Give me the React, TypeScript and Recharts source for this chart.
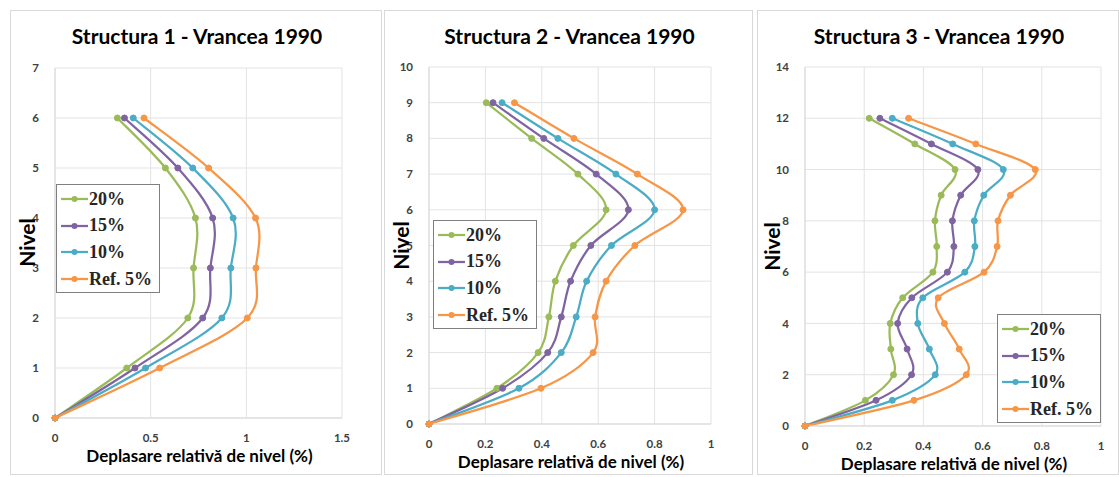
import React from 'react';
import { LineChart, Line, XAxis, YAxis, CartesianGrid } from 'recharts';

// levels and drifts (%) per structure
const niv1 = [0, 1, 2, 3, 4, 5, 6];
const s1p20 = [0, 0.375, 0.694, 0.724, 0.734, 0.577, 0.326];
const s1p15 = [0, 0.418, 0.772, 0.812, 0.824, 0.642, 0.363];
const s1p10 = [0, 0.473, 0.872, 0.919, 0.931, 0.72, 0.409];
const s1ref = [0, 0.547, 1.005, 1.05, 1.048, 0.803, 0.465];

const niv2 = [0, 1, 2, 3, 4, 5, 6, 7, 8, 9];
const s2p20 = [0, 0.241, 0.387, 0.425, 0.448, 0.512, 0.628, 0.528, 0.364, 0.203];
const s2p15 = [0, 0.261, 0.421, 0.469, 0.502, 0.574, 0.707, 0.593, 0.407, 0.227];
const s2p10 = [0, 0.319, 0.469, 0.522, 0.559, 0.647, 0.8, 0.663, 0.457, 0.259];
const s2ref = [0, 0.397, 0.582, 0.589, 0.628, 0.73, 0.901, 0.739, 0.514, 0.303];

const niv3 = [0, 1, 2, 3, 4, 5, 6, 7, 8, 9, 10, 11, 12];
const s3p20 = [0, 0.204, 0.299, 0.29, 0.288, 0.33, 0.432, 0.445, 0.439, 0.46, 0.507, 0.371, 0.217];
const s3p15 = [0, 0.24, 0.36, 0.345, 0.313, 0.361, 0.481, 0.503, 0.498, 0.526, 0.584, 0.427, 0.253];
const s3p10 = [0, 0.295, 0.44, 0.42, 0.381, 0.398, 0.54, 0.574, 0.572, 0.604, 0.67, 0.499, 0.295];
const s3ref = [0, 0.368, 0.545, 0.521, 0.471, 0.45, 0.605, 0.649, 0.652, 0.694, 0.778, 0.577, 0.35];

const seriesNames = ['20%', '15%', '10%', 'Ref. 5%'];
const seriesKeys = ['p20', 'p15', 'p10', 'ref'];
const seriesColors = ['#9BBB59', '#8064A2', '#4BACC6', '#F79646'];

const xTicks1 = [0, 0.5, 1, 1.5];
const xTicks23 = [0, 0.2, 0.4, 0.6, 0.8, 1];
const yTicks1 = [0, 1, 2, 3, 4, 5, 6, 7];
const yTicks2 = [0, 1, 2, 3, 4, 5, 6, 7, 8, 9, 10];
const yTicks3 = [0, 2, 4, 6, 8, 10, 12, 14];

const buildRows = (niv: number[], cols: number[][]) =>
  niv.map((n, i) => {
    const row: any = { nivel: n };
    seriesKeys.forEach((k, j) => (row[k] = cols[j][i]));
    return row;
  });

// bezier smoothing through every point, like the office "smoothed line"
const smoothCurve = (context: any) => {
  let pts: number[][] = [];
  return {
    areaStart() {},
    areaEnd() {},
    lineStart() {
      pts = [];
    },
    point(x: number, y: number) {
      pts.push([+x, +y]);
    },
    lineEnd() {
      if (!pts.length) return;
      context.moveTo(pts[0][0], pts[0][1]);
      const t = 1 / 6;
      for (let i = 0; i < pts.length - 1; i++) {
        const p0 = pts[i - 1] || pts[i];
        const p1 = pts[i];
        const p2 = pts[i + 1];
        const p3 = pts[i + 2] || p2;
        context.bezierCurveTo(
          p1[0] + (p2[0] - p0[0]) * t,
          p1[1] + (p2[1] - p0[1]) * t,
          p2[0] - (p3[0] - p1[0]) * t,
          p2[1] - (p3[1] - p1[1]) * t,
          p2[0],
          p2[1]
        );
      }
    },
  };
};

const X_AXIS_H = 30;
const Y_AXIS_W = 30;

const panels = [
  {
    title: 'Structura 1 - Vrancea 1990',
    left: 10, width: 372,
    rows: buildRows(niv1, [s1p20, s1p15, s1p10, s1ref]),
    xMax: 1.5, xTicks: xTicks1, yMax: 7, yTicks: yTicks1,
    margin: { top: 57, right: 39, bottom: 56 - X_AXIS_H, left: 14 },
    legend: { left: 45, top: 173 },
    nivelX: 15,
  },
  {
    title: 'Structura 2 - Vrancea 1990',
    left: 384, width: 369,
    rows: buildRows(niv2, [s2p20, s2p15, s2p10, s2ref]),
    xMax: 1, xTicks: xTicks23, yMax: 10, yTicks: yTicks2,
    margin: { top: 56, right: 41, bottom: 50 - X_AXIS_H, left: 14 },
    legend: { left: 48, top: 209 },
    nivelX: 15,
  },
  {
    title: 'Structura 3 - Vrancea 1990',
    left: 757, width: 362,
    rows: buildRows(niv3, [s3p20, s3p15, s3p10, s3ref]),
    xMax: 1, xTicks: xTicks23, yMax: 14, yTicks: yTicks3,
    margin: { top: 56, right: 17, bottom: 48 - X_AXIS_H, left: 17 },
    legend: { left: 239, top: 303 },
    nivelX: 13,
  },
];

const PANEL_H = 465;
const calibri = 'Lato, "Open Sans", sans-serif';
const tickStyle = { fontFamily: calibri, fontSize: 11.5, fontWeight: 700, fill: '#404040' };

function SeriesLegend({ left, top }: { left: number; top: number }) {
  return (
    <div
      style={{
        position: 'absolute', left, top, width: 104, height: 109, padding: '1px 0 0 4px',
        border: '1px solid #7f7f7f', background: '#fff', boxSizing: 'border-box', whiteSpace: 'nowrap',
      }}
    >
      {seriesNames.map((name, i) => (
        <div key={name} style={{ display: 'flex', alignItems: 'center', height: 26.6 }}>
          <svg width={27} height={10} style={{ marginRight: 1, flex: 'none' }}>
            <line x1={0} y1={5} x2={27} y2={5} stroke={seriesColors[i]} strokeWidth={2.25} />
            <circle cx={13.5} cy={5} r={3} fill={seriesColors[i]} />
          </svg>
          <span style={{ fontFamily: '"Liberation Serif", "Times New Roman", serif', fontWeight: 700, fontSize: 18, color: '#262626' }}>
            {name}
          </span>
        </div>
      ))}
    </div>
  );
}

function Panel(p: (typeof panels)[number]) {
  const plotTop = p.margin.top;
  const plotBottom = PANEL_H - p.margin.bottom - X_AXIS_H;
  const plotLeft = p.margin.left + Y_AXIS_W;
  const plotRight = p.width - p.margin.right;
  return (
    <div
      style={{
        position: 'absolute', left: p.left, top: 10, width: p.width, height: PANEL_H,
        border: '1px solid #d9d9d9', boxSizing: 'border-box', background: '#fff',
      }}
    >
      <div
        style={{
          position: 'absolute', left: 0, width: p.width, top: 12, textAlign: 'center',
          fontFamily: calibri, fontWeight: 700, fontSize: 21, color: '#000',
        }}
      >
        {p.title}
      </div>
      <LineChart width={p.width - 2} height={PANEL_H - 2} data={p.rows} layout="vertical" margin={p.margin}>
        <CartesianGrid stroke="#e3e3e3" />
        <XAxis
          type="number" domain={[0, p.xMax]} ticks={p.xTicks} interval={0} height={X_AXIS_H}
          axisLine={{ stroke: '#d9d9d9' }} tickLine={false} tick={tickStyle} tickMargin={10}
        />
        <YAxis
          type="number" dataKey="nivel" domain={[0, p.yMax]} ticks={p.yTicks} interval={0} reversed
          width={Y_AXIS_W} axisLine={{ stroke: '#d9d9d9' }} tickLine={false} tick={tickStyle} tickMargin={10}
        />
        {seriesKeys.map((k, i) => (
          <Line
            key={k} dataKey={k} name={seriesNames[i]} type={smoothCurve as any}
            stroke={seriesColors[i]} strokeWidth={2.25}
            dot={{ r: 3, fill: seriesColors[i], stroke: seriesColors[i], strokeWidth: 1 }}
            isAnimationActive={false}
          />
        ))}
      </LineChart>
      <div
        style={{
          position: 'absolute', left: p.nivelX - 30, top: (plotTop + plotBottom) / 2 - 14, width: 60,
          textAlign: 'center', transform: 'rotate(-90deg)',
          fontFamily: calibri, fontWeight: 700, fontSize: 21, color: '#000',
        }}
      >
        Nivel
      </div>
      <div
        style={{
          position: 'absolute', left: plotLeft - 40, width: plotRight - plotLeft + 80, top: plotBottom + 25,
          textAlign: 'center', fontFamily: calibri, fontWeight: 700, fontSize: 17, color: '#000',
        }}
      >
        Deplasare relativă de nivel (%)
      </div>
      <SeriesLegend left={p.legend.left} top={p.legend.top} />
    </div>
  );
}

export default function App() {
  return (
    <div style={{ position: 'absolute', left: 0, top: 0, width: 1119, height: 477, background: '#fff', overflow: 'hidden' }}>
      {panels.map((p) => (
        <Panel key={p.title} {...p} />
      ))}
    </div>
  );
}
